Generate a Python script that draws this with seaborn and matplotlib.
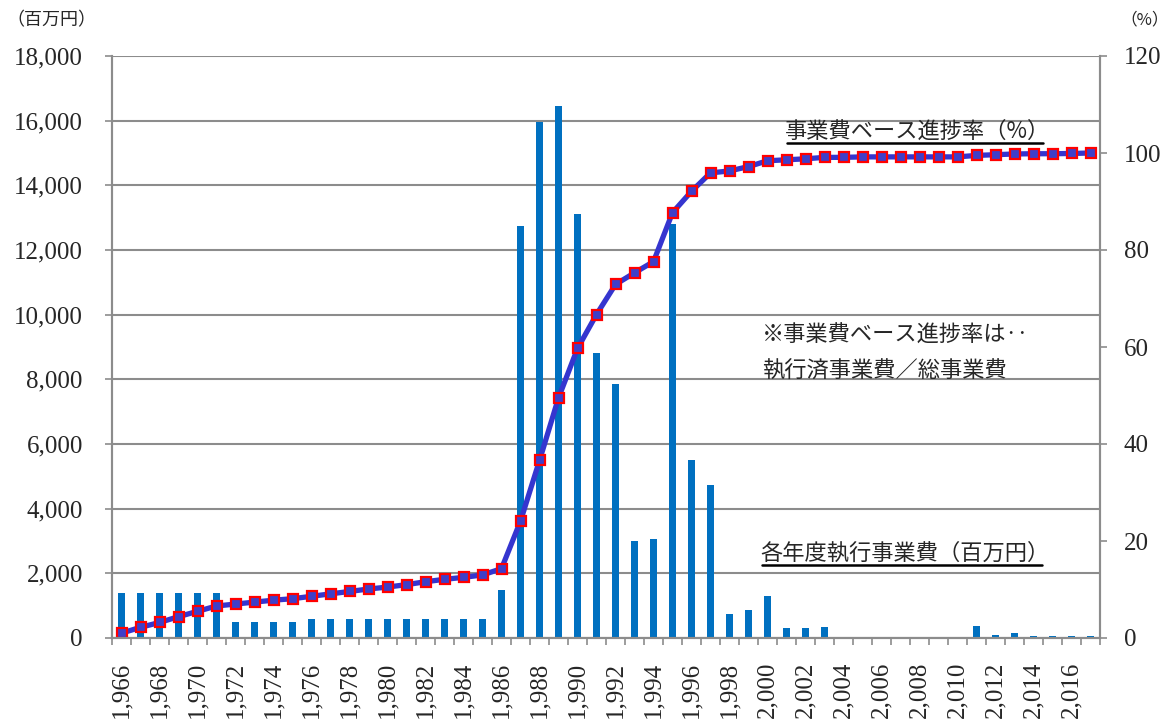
import numpy as np
import pandas as pd
import matplotlib
matplotlib.use("Agg")
import matplotlib.pyplot as plt
from matplotlib.lines import Line2D
import seaborn as sns

# ---------------- data ----------------
years = list(range(1966, 2018))
spending = [1400, 1400, 1400, 1400, 1400, 1400,
            500, 500, 500, 500,
            600, 600, 600, 600, 600, 600, 600, 600, 600, 600,
            1500, 12750, 15950, 16450, 13100, 8800, 7870, 2990, 3050, 12800,
            5500, 4740, 755, 865, 1300, 310, 310, 340, 20, 10,
            0, 0, 0, 0, 0, 370, 90, 155, 55, 55, 55, 55]
progress = [1.0, 2.2, 3.2, 4.4, 5.5, 6.6, 7.0, 7.4, 7.8, 8.1,
            8.6, 9.1, 9.6, 10.1, 10.5, 11.0, 11.6, 12.1, 12.5, 13.0,
            14.3, 24.1, 36.6, 49.5, 59.7, 66.7, 72.9, 75.3, 77.6, 87.7,
            92.1, 95.9, 96.3, 97.2, 98.4, 98.6, 98.8, 99.1, 99.1, 99.2,
            99.2, 99.2, 99.2, 99.2, 99.2, 99.5, 99.65, 99.8, 99.85, 99.85,
            99.9, 100.0]
left_ticks = [0, 2000, 4000, 6000, 8000, 10000, 12000, 14000, 16000, 18000]
right_ticks = [0, 20, 40, 60, 80, 100, 120]
year_labels = [f"{y:,}" for y in years]

df = pd.DataFrame({"year": [str(y) for y in years],
                   "spending": spending,
                   "progress": progress})

# ---------------- style ----------------
sns.set_style("white")
plt.rcParams["font.family"] = ["Liberation Serif", "Noto Sans CJK JP", "DejaVu Sans"]
JP = ["Noto Sans CJK JP", "DejaVu Sans"]
GRID = "#8c8c8c"

fig = plt.figure(figsize=(11.68, 7.2), dpi=100)
ax = fig.add_axes([112 / 1168, 1 - 638 / 720, (1100 - 112) / 1168, (638 - 56) / 720])

sns.barplot(data=df, x="year", y="spending", ax=ax, color="#0070C0",
            width=0.4, saturation=1, edgecolor="none", zorder=2)

ax2 = ax.twinx()
sns.pointplot(data=df, x="year", y="progress", ax=ax2, errorbar=None,
              color="#3535CF", markers="s", linestyles="-",
              linewidth=3.8, markersize=7, markeredgecolor="#FF0000",
              markerfacecolor="#3F3FC8", markeredgewidth=1.6)

# ---------------- axes ----------------
n = len(years)
ax.set_xlim(-0.5, n - 0.5)
ax.set_ylim(0, 18000)
ax2.set_ylim(0, 120)

ax.set_yticks(left_ticks)
ax.set_yticklabels([f"{v:,}" for v in left_ticks], fontsize=18)
ax2.set_yticks(right_ticks)
ax2.set_yticklabels([str(v) for v in right_ticks], fontsize=18)

ax.set_xticks(np.arange(0, n, 2))
ax.set_xticklabels(year_labels[::2], rotation=90, fontsize=18, va="top", ha="center")
ax.set_xticks(np.arange(-0.5, n, 1), minor=True)
ax.tick_params(axis="x", which="major", length=0, pad=17)
ax.tick_params(axis="x", which="minor", length=5, width=1.2, color=GRID, bottom=True)
ax.tick_params(axis="y", which="major", length=5, width=1.2, color=GRID, pad=16, left=True)
ax2.tick_params(axis="y", which="major", length=5, width=1.2, color=GRID, pad=12, right=True)

ax.set_xlabel("")
ax.set_ylabel("")
ax2.set_ylabel("")
ax2.set_xlabel("")

ax.yaxis.grid(True, color=GRID, linewidth=1.5, zorder=0)
ax.set_axisbelow(True)
ax.xaxis.grid(False)
ax2.grid(False)

for a in (ax, ax2):
    for side in ("left", "right", "bottom"):
        a.spines[side].set_visible(True)
        a.spines[side].set_color(GRID)
        a.spines[side].set_linewidth(1.5)
    a.spines["top"].set_visible(False)

# ---------------- texts ----------------
def fx(px):
    return px / 1168

def fy(py):
    return 1 - py / 720

fig.text(fx(6), fy(20), "（百万円）", family=JP, fontsize=13, va="center", ha="left")
fig.text(fx(1120), fy(20), "（%）", family=JP, fontsize=12, va="center", ha="left")

t1 = fig.text(fx(785), fy(131), "事業費ベース進捗率（%）", family=JP, fontsize=16,
              va="center", ha="left")
t2 = fig.text(fx(760), fy(553), "各年度執行事業費（百万円）", family=JP, fontsize=16,
              va="center", ha="left")
fig.text(fx(762), fy(335), "※事業費ベース進捗率は‥", family=JP, fontsize=16,
         va="center", ha="left")
fig.text(fx(762), fy(371), "執行済事業費／総事業費", family=JP, fontsize=16,
         va="center", ha="left")

fig.canvas.draw()
renderer = fig.canvas.get_renderer()
for t in (t1, t2):
    bb = t.get_window_extent(renderer=renderer).transformed(fig.transFigure.inverted())
    fig.add_artist(Line2D([bb.x0 + 0.002, bb.x1 - 0.006], [bb.y0 - 0.001, bb.y0 - 0.001],
                          transform=fig.transFigure, color="black", linewidth=1.8))

fig.savefig("out.png", dpi=100)
